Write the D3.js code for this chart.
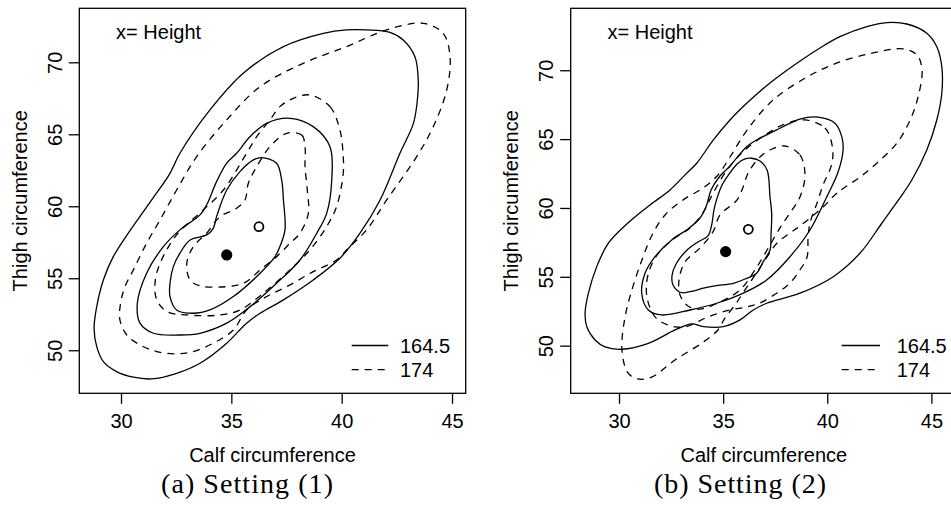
<!DOCTYPE html>
<html>
<head>
<meta charset="utf-8">
<script src="https://cdn.jsdelivr.net/npm/d3@7/dist/d3.min.js"></script>
<style>
  body { margin: 0; background: #fff; }
  svg { display: block; }
</style>
</head>
<body>
<div id="grafico"></div>
<script>
//------------------------------ Data --------------------------------

const xTicks = [30, 35, 40, 45];
const yTicks = [50, 55, 60, 65, 70];
const legendLabels = ["164.5", "174"];
const xTitle = "Calf circumference";
const yTitle = "Thigh circumference";
const noteText = "x= Height";
const captions = ["(a) Setting (1)", "(b) Setting (2)"];

// axis limits (calf, thigh) for each panel
const xLimA = [28.11, 45.62];
const yLimA = [47.01, 73.75];
const xLimB = [27.68, 46.23];
const yLimB = [46.54, 74.50];

// modes: filled = height 164.5, open = height 174
const modeA = [[34.79, 56.62], [36.25, 58.58]];
const modeB = [[35.12, 56.83], [36.21, 58.45]];

// Setting (1), height 164.5 (solid)
const a164Inner = [[36.37,63.38],[37.05,62.99],[37.28,61.83],[37.36,60.44],[37.43,58.36],[37.20,57.20],[36.98,56.50],[36.15,55.12],[35.09,53.73],[34.03,52.80],[33.28,52.57],[32.52,52.80],[32.22,53.73],[32.22,54.65],[32.37,55.81],[32.67,56.74],[33.13,57.66],[33.88,58.01],[34.18,58.47],[34.33,59.28],[34.79,61.13],[35.39,62.41],[36.00,63.22]];
const a164Mid = [[37.66,66.11],[38.71,65.53],[39.47,64.14],[39.55,61.83],[39.32,59.51],[38.87,58.13],[38.11,56.27],[37.05,54.65],[35.85,53.03],[34.79,51.88],[33.58,51.18],[32.67,51.06],[31.47,51.18],[30.86,51.88],[30.74,53.26],[31.16,55.35],[31.92,57.20],[32.67,58.36],[33.58,59.40],[33.88,60.09],[34.33,61.71],[34.79,62.99],[35.24,63.68],[35.85,64.84],[36.60,65.76]];
const a164Outer = [[41.13,72.25],[42.19,72.08],[42.79,71.55],[43.32,70.39],[43.47,68.77],[43.43,67.38],[43.25,65.76],[42.64,63.68],[41.74,60.44],[40.83,58.13],[39.92,56.39],[38.71,54.88],[37.36,53.50],[36.30,52.57],[35.69,51.88],[34.79,50.49],[33.58,49.10],[32.52,48.40],[31.39,48.01],[30.56,48.13],[29.80,48.52],[29.20,49.21],[28.90,50.25],[28.78,51.53],[28.90,53.03],[29.20,54.88],[29.65,56.50],[30.33,58.13],[31.39,60.44],[32.22,62.29],[32.67,63.68],[34.03,66.69],[35.54,69.24],[37.36,71.09],[39.17,72.01],[40.22,72.25]];

// Setting (1), height 174 (dashed)
const a174Inner = [[37.51,65.07],[38.19,64.95],[38.34,64.14],[38.34,62.75],[38.44,61.13],[38.49,59.51],[38.11,58.13],[37.66,57.43],[37.05,56.50],[36.30,55.58],[35.69,54.77],[35.09,54.47],[33.58,54.47],[33.13,54.88],[32.98,56.04],[33.28,57.20],[33.88,58.13],[34.49,59.28],[35.24,59.86],[35.62,60.44],[35.77,61.60],[36.15,62.75],[36.75,64.14]];
const a174Mid = [[38.56,67.73],[39.47,66.92],[39.92,65.30],[40.07,63.45],[40.07,62.29],[39.77,59.98],[39.32,58.59],[38.56,56.97],[37.66,55.58],[36.45,53.96],[35.39,52.80],[34.49,52.45],[32.98,52.45],[32.07,52.69],[31.62,53.50],[31.54,54.65],[31.77,56.04],[32.52,58.01],[33.73,59.75],[34.64,61.13],[35.69,63.68],[36.15,64.84],[36.75,66.00],[37.20,66.92],[37.81,67.50]];
const a174Outer = [[43.70,72.71],[44.60,72.01],[44.91,70.39],[44.76,68.08],[44.15,65.53],[43.40,63.45],[42.04,60.44],[41.13,58.36],[40.22,56.97],[39.77,56.27],[38.71,55.46],[37.66,54.54],[36.60,53.73],[35.69,52.80],[35.09,51.41],[34.18,50.49],[33.28,49.91],[32.52,49.75],[31.62,49.91],[30.86,50.37],[30.26,51.06],[29.95,52.11],[29.98,53.26],[30.18,54.42],[30.56,55.58],[31.16,57.43],[31.77,59.05],[32.52,61.13],[33.43,63.45],[34.79,66.00],[36.30,68.31],[38.26,69.93],[40.22,71.09],[42.04,72.25]];

// Setting (2), height 164.5 (solid)
const b164Inner = [[36.37,63.61],[36.77,63.41],[37.11,62.76],[37.25,60.80],[37.33,59.64],[37.30,58.04],[37.25,56.95],[36.92,56.08],[36.61,55.26],[36.05,54.84],[35.49,54.53],[34.61,54.34],[34.05,54.17],[33.41,53.92],[32.98,53.86],[32.59,54.41],[32.55,55.13],[32.74,55.93],[33.22,56.88],[33.79,57.53],[34.27,57.97],[34.45,58.77],[34.56,59.86],[34.71,60.73],[34.95,61.67],[35.19,62.25],[35.67,63.20],[36.05,63.56]];
const b164Mid = [[39.56,66.59],[40.37,66.15],[40.70,65.16],[40.76,64.21],[40.52,62.61],[39.98,60.82],[39.17,58.40],[38.21,56.46],[37.09,54.77],[35.97,53.81],[34.69,53.08],[33.41,52.59],[32.05,52.23],[31.41,52.59],[31.09,53.81],[31.25,55.26],[31.73,56.46],[32.53,57.68],[33.31,58.47],[33.89,59.27],[34.21,60.22],[34.42,61.31],[34.85,62.32],[35.33,63.05],[36.13,64.45],[36.61,64.94],[37.73,65.79],[38.69,66.46]];
const b164Outer = [[42.86,73.46],[43.82,73.36],[44.78,72.69],[45.26,71.71],[45.50,70.26],[45.50,68.33],[45.26,66.39],[44.78,64.21],[44.06,62.03],[43.42,60.58],[42.62,58.89],[41.58,56.73],[40.29,55.01],[38.69,53.81],[37.09,53.08],[36.45,52.59],[35.81,51.87],[35.01,51.38],[34.05,51.38],[33.49,51.58],[32.69,51.14],[31.41,50.17],[30.13,49.74],[29.33,49.91],[28.85,50.41],[28.45,51.38],[28.37,52.35],[28.53,53.81],[28.93,55.74],[29.49,57.44],[30.43,58.91],[31.49,60.22],[32.45,61.31],[33.17,62.40],[33.73,63.25],[34.53,64.94],[35.33,66.39],[36.13,67.60],[37.25,69.08],[38.54,70.51],[39.65,71.62],[40.61,72.44],[41.90,73.17]];

// Setting (2), height 174 (dashed)
const b174Inner = [[37.97,64.50],[38.69,63.85],[38.93,62.40],[38.69,60.80],[38.21,59.64],[37.73,58.55],[37.11,56.95],[36.53,55.50],[35.81,54.05],[34.85,53.17],[33.89,52.66],[33.31,52.88],[32.93,53.68],[32.88,54.77],[33.17,56.08],[33.89,57.10],[34.51,58.26],[34.85,59.49],[35.67,60.58],[35.96,61.53],[36.20,62.54],[36.77,63.70],[37.35,64.28]];
const b174Mid = [[38.93,66.39],[39.89,65.81],[40.23,64.58],[40.23,63.27],[39.80,61.67],[39.51,60.36],[39.17,58.91],[39.08,57.89],[39.03,56.44],[38.69,55.50],[38.21,54.55],[37.59,53.83],[36.77,53.10],[36.15,52.81],[35.33,52.59],[34.27,52.09],[33.17,51.36],[32.35,51.50],[31.73,52.09],[31.34,53.54],[31.39,55.13],[31.83,56.59],[32.55,57.68],[33.41,58.55],[34.03,59.64],[34.47,60.94],[35.19,62.76],[36.05,64.21],[37.01,65.30],[37.97,66.10]];
const b174Outer = [[41.58,62.25],[40.47,61.09],[39.80,60.07],[38.69,58.69],[38.21,58.18],[37.59,57.46],[37.11,56.44],[36.53,55.13],[36.05,54.05],[35.57,52.96],[35.09,52.01],[34.75,51.14],[33.99,50.20],[32.69,48.96],[31.59,47.73],[30.91,47.58],[30.43,48.02],[30.14,49.69],[30.29,52.08],[30.62,54.05],[31.10,56.22],[31.59,58.04],[32.21,59.49],[33.07,60.58],[34.03,61.45],[34.71,62.32],[35.33,63.70],[36.15,65.66],[37.40,67.84],[39.03,69.51],[40.47,70.53],[42.20,71.26],[43.64,71.55],[44.31,71.11],[44.55,70.02],[44.36,68.06],[43.98,66.39],[43.35,64.72],[42.39,63.27]];

//------------------------------ Drawing -----------------------------

const ANCHO = 951, ALTO = 506;
const SANS = "'Liberation Sans', Arial, Helvetica, sans-serif";
const SERIF = "'Liberation Serif', 'Times New Roman', serif";
const GROSOR = 1.3;

const svg = d3.select("#grafico")
              .append("svg")
              .attr("width", ANCHO)
              .attr("height", ALTO);

const dibujo = d3.line()
                 .curve(d3.curveCatmullRomClosed.alpha(0.5));

function panel(op) {
    const x = d3.scaleLinear().domain(op.xLim).range([op.left, op.right]);
    const y = d3.scaleLinear().domain(op.yLim).range([op.bottom, op.top]);
    dibujo.x(d => x(d[0])).y(d => y(d[1]));

    const g = svg.append("g");

    op.solid.forEach(c => {
        g.append("path")
         .attr("d", dibujo(c))
         .attr("fill", "none")
         .attr("stroke", "#000")
         .attr("stroke-width", GROSOR);
    });
    op.dashed.forEach(c => {
        g.append("path")
         .attr("d", dibujo(c))
         .attr("fill", "none")
         .attr("stroke", "#000")
         .attr("stroke-width", GROSOR)
         .attr("stroke-dasharray", "7,6");
    });

    // modes
    g.append("circle")
     .attr("cx", x(op.modes[0][0])).attr("cy", y(op.modes[0][1]))
     .attr("r", 5.6).attr("fill", "#000");
    g.append("circle")
     .attr("cx", x(op.modes[1][0])).attr("cy", y(op.modes[1][1]))
     .attr("r", 4.5).attr("fill", "#fff")
     .attr("stroke", "#000").attr("stroke-width", 1.8);

    // box
    g.append("rect")
     .attr("x", op.left).attr("y", op.top)
     .attr("width", op.right - op.left).attr("height", op.bottom - op.top)
     .attr("fill", "none").attr("stroke", "#000").attr("stroke-width", GROSOR);

    // axes
    const ax = g.append("g")
                .attr("transform", `translate(0, ${op.bottom})`)
                .call(d3.axisBottom(x).tickValues(xTicks).tickSize(10.5).tickPadding(10.5).tickFormat(d3.format("d")));
    const ay = g.append("g")
                .attr("transform", `translate(${op.left}, 0)`)
                .call(d3.axisLeft(y).tickValues(yTicks).tickSize(10.5).tickFormat(d3.format("d")));

    [ax, ay].forEach(a => {
        a.select(".domain").remove();
        a.selectAll("line").attr("stroke", "#000").attr("stroke-width", GROSOR);
        a.selectAll("text")
         .attr("font-family", SANS).attr("font-size", 20).attr("fill", "#000");
    });
    ay.selectAll("text")
      .attr("x", null).attr("dy", null)
      .attr("transform", "rotate(-90)")
      .attr("y", -17.5)
      .attr("text-anchor", "middle");

    // axis titles
    g.append("text")
     .attr("x", (op.left + op.right) / 2).attr("y", 461.5)
     .attr("text-anchor", "middle")
     .attr("font-family", SANS).attr("font-size", 20)
     .text(xTitle);
    g.append("text")
     .attr("transform", `translate(${op.left - 52.8}, ${(op.top + op.bottom) / 2}) rotate(-90)`)
     .attr("text-anchor", "middle")
     .attr("font-family", SANS).attr("font-size", 20)
     .text(yTitle);

    // note
    g.append("text")
     .attr("x", op.left + 36.8).attr("y", op.top + 30.8)
     .attr("font-family", SANS).attr("font-size", 20)
     .text(noteText);

    // legend
    const filas = [op.bottom - 47.8, op.bottom - 23.6];
    legendLabels.forEach((lab, i) => {
        g.append("line")
         .attr("x1", op.legLine[0]).attr("x2", op.legLine[1])
         .attr("y1", filas[i]).attr("y2", filas[i])
         .attr("stroke", "#000").attr("stroke-width", GROSOR)
         .attr("stroke-dasharray", i === 0 ? null : "7,6");
        g.append("text")
         .attr("x", op.legText).attr("y", filas[i] + 7)
         .attr("font-family", SANS).attr("font-size", 20)
         .text(lab);
    });

    // caption
    g.append("text")
     .attr("x", op.capX).attr("y", 493)
     .attr("text-anchor", "middle")
     .attr("font-family", SERIF).attr("font-size", 28)
     .attr("textLength", 172).attr("lengthAdjust", "spacing")
     .text(op.caption);
}

panel({
    left: 79.3, right: 465.7, top: 8.3, bottom: 393.3,
    xLim: xLimA, yLim: yLimA,
    solid: [a164Inner, a164Mid, a164Outer],
    dashed: [a174Inner, a174Mid, a174Outer],
    modes: modeA,
    legLine: [351.7, 388.3], legText: 400,
    capX: 247, caption: captions[0]
});

panel({
    left: 570.7, right: 957, top: 8.3, bottom: 393.3,
    xLim: xLimB, yLim: yLimB,
    solid: [b164Inner, b164Mid, b164Outer],
    dashed: [b174Inner, b174Mid, b174Outer],
    modes: modeB,
    legLine: [841.7, 880], legText: 896.7,
    capX: 740, caption: captions[1]
});
</script>
</body>
</html>
